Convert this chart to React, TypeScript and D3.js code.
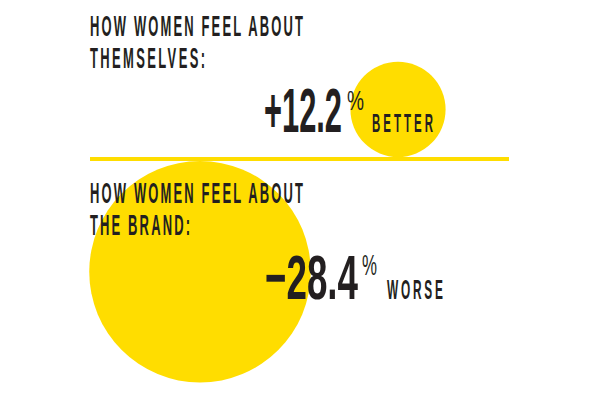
import React from "react";
import * as d3 from "d3";

const titleLines: string[][] = [
  ["HOW WOMEN FEEL ABOUT", "THEMSELVES:"],
  ["HOW WOMEN FEEL ABOUT", "THE BRAND:"],
];
const values: number[] = [12.2, -28.4];
const directions: string[] = ["BETTER", "WORSE"];

const W = 596;
const H = 399;
const YELLOW = "#FFDD00";
const INK = "#231f20";
const FONT = "'Liberation Sans', Arial, sans-serif";

type FTProps = {
  x: number;
  y: number;
  w: number;
  size: number;
  sx: number;
  text: string;
  weight?: string | number;
  glyphs?: boolean;
};

function FitText({ x, y, w, size, sx, text, weight = "bold", glyphs = false }: FTProps) {
  return (
    <text
      transform={`translate(${x},${y}) scale(${sx},1)`}
      x={0}
      y={0}
      fontFamily={FONT}
      fontSize={size}
      fontWeight={weight}
      fill={INK}
      textLength={w / sx}
      lengthAdjust={glyphs ? "spacingAndGlyphs" : "spacing"}
    >
      {text}
    </text>
  );
}

export default function App() {
  const fmt = d3.format("+.1f");
  const r = d3
    .scaleLinear()
    .domain([0, 10])
    .range([0, 39]);

  const lineY = 159;
  const lineW = 4;
  const x = d3.scaleLinear().domain([0, 1]).range([90, 509]);

  const r1 = r(Math.abs(values[0]));
  const r2 = r(Math.abs(values[1]));
  const c1 = { cx: 398, cy: lineY - lineW / 2 - r1 };
  const c2 = { cx: 200, cy: lineY + lineW / 2 + r2 };

  return (
    <svg width={W} height={H} style={{ position: "absolute", left: 0, top: 0 }}>
      <rect width={W} height={H} fill="#fff" />
      <circle cx={c1.cx} cy={c1.cy} r={r1} fill={YELLOW} />
      <circle cx={c2.cx} cy={c2.cy} r={r2} fill={YELLOW} />
      <line x1={x(0)} x2={x(1)} y1={lineY} y2={lineY} stroke={YELLOW} strokeWidth={lineW} />

      {/* block 1 */}
      <FitText x={90} y={36} w={213} size={29.5} sx={0.44} text={titleLines[0][0]} />
      <FitText x={90} y={68} w={115} size={29.5} sx={0.44} text={titleLines[0][1]} />
      <FitText x={264} y={132} w={78} size={63} sx={0.5} text={fmt(values[0])} glyphs />
      <FitText x={347} y={110} w={17} size={28} sx={0.75} text="%" glyphs weight="normal" />
      <FitText x={372} y={132} w={61} size={26} sx={0.44} text={directions[0]} />

      {/* block 2 */}
      <FitText x={90} y={203} w={213} size={29.5} sx={0.44} text={titleLines[1][0]} />
      <FitText x={90} y={235} w={100} size={29.5} sx={0.44} text={titleLines[1][1]} />
      <FitText x={265} y={299} w={93} size={63} sx={0.5} text={fmt(values[1])} glyphs />
      <FitText x={362} y={275} w={15} size={29} sx={0.7} text="%" glyphs weight="normal" />
      <FitText x={387} y={299} w={56} size={27} sx={0.44} text={directions[1]} />
    </svg>
  );
}
